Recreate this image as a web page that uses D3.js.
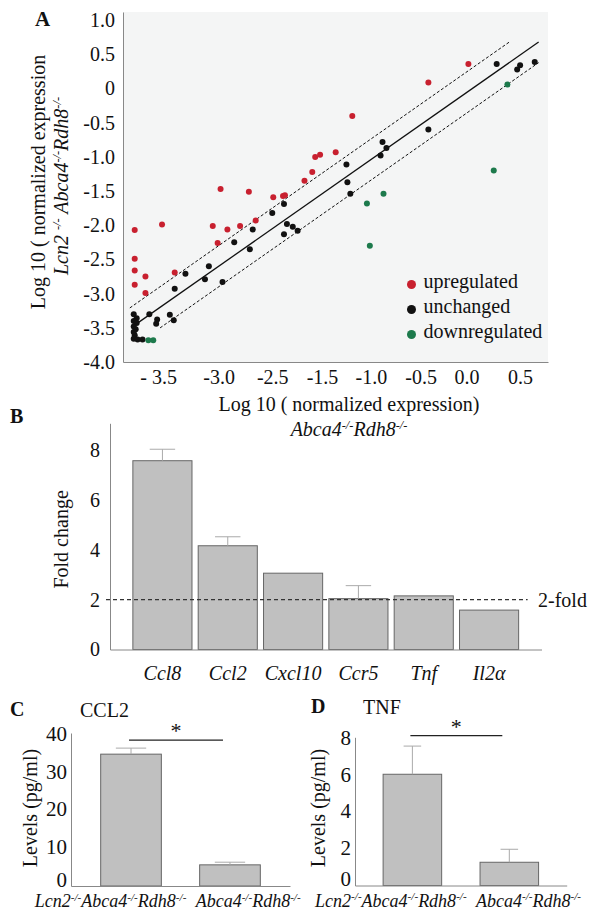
<!DOCTYPE html>
<html>
<head>
<meta charset="utf-8">
<script src="https://cdn.jsdelivr.net/npm/d3@7"></script>
<style>
  body { margin: 0; background: #fff; }
  svg text { font-family: "Liberation Serif", "Times New Roman", serif; fill: #111; }
</style>
</head>
<body>
<div id="fig"></div>
<script>
// ---- A: log10 expression, Lcn2 KO vs control ----
const upregulated = [
  [-3.46,-2.07],[-2.66,-2.01],[-2.51,-2.06],[-2.38,-2.01],[-2.22,-1.93],[-2.61,-2.26],
  [-3.18,-1.99],[-3.46,-2.49],[-3.46,-2.66],[-3.35,-2.75],[-3.46,-2.87],[-3.35,-2.99],
  [-3.05,-2.69],[-2.58,-1.47],[-2.29,-1.51],[-2.04,-1.59],[-1.94,-1.57],[-1.92,-1.56],
  [-1.72,-1.35],[-1.64,-1.22],[-1.61,-1.00],[-1.56,-0.97],[-1.40,-0.93],[-1.23,-0.40],
  [-0.45,0.09],[-0.04,0.36]
];
const unchanged = [
  [-1.93,-1.69],[-2.05,-1.82],[-2.25,-2.06],[-2.44,-2.25],[-2.28,-2.35],[-1.90,-1.98],
  [-1.84,-2.02],[-1.79,-2.08],[-1.93,-2.13],[-2.70,-2.60],[-2.94,-2.71],[-2.74,-2.79],
  [-2.56,-2.83],[-3.05,-2.93],[-3.31,-3.30],[-3.23,-3.38],[-3.24,-3.44],[-3.10,-3.31],
  [-3.06,-3.39],[-3.47,-3.30],[-3.44,-3.36],[-3.47,-3.40],[-3.44,-3.43],[-3.47,-3.48],
  [-3.45,-3.52],[-3.47,-3.56],[-3.46,-3.61],[-3.47,-3.66],[-3.43,-3.67],[-3.38,-3.67],
  [0.25,0.36],[0.49,0.34],[0.46,0.28],[0.64,0.39],[-0.45,-0.60],[-0.92,-0.78],
  [-0.88,-0.87],[-0.94,-0.98],[-1.29,-1.11],[-1.28,-1.37],[-1.25,-1.54]
];
const downregulated = [
  [0.36,0.06],[0.22,-1.20],[-0.91,-1.54],[-1.08,-1.68],[-1.05,-2.30],[-3.32,-3.68],[-3.27,-3.68]
];
const groupNames = ["upregulated", "unchanged", "downregulated"];
const yTicksA = [1.0, 0.5, 0, -0.5, -1.0, -1.5, -2.0, -2.5, -3.0, -3.5, -4.0];
const yTickLabelsA = ["1.0", "0.5", "0", "-0.5", "-1.0", "-1.5", "-2.0", "-2.5", "-3.0", "-3.5", "-4.0"];
// tick labels as printed in the original (they are not evenly spaced there)
const xTicksA = [-3.22, -2.60, -2.05, -1.54, -1.04, -0.53, -0.06, 0.49];
const xTickLabelsA = ["- 3.5", "-3.0", "-2.5", "-1.5", "-1.0", "-0.5", "0.0", "0.5"];
// y = x and the 2-fold band, with the x-range each line covers
const fitLines = [
  { offset: 0, from: -3.49, to: 0.68 },
  { offset: Math.log10(2), from: -3.51, to: 0.38 },
  { offset: -Math.log10(2), from: -3.20, to: 0.68 }
];

// ---- B: fold change ----
const genes = ["Ccl8", "Ccl2", "Cxcl10", "Ccr5", "Tnf", "Il2α"];
const foldChange = [7.57, 4.16, 3.06, 2.04, 2.15, 1.58];
const foldError = [0.46, 0.36, 0, 0.52, 0, 0];
const foldTicks = [0, 2, 4, 6, 8];
const foldThreshold = 2;

// ---- C / D: protein levels ----
const strains = ["Lcn2-/-Abca4-/-Rdh8-/-", "Abca4-/-Rdh8-/-"];
const ccl2Levels = [34.9, 5.6];
const ccl2Error = [1.6, 0.7];
const ccl2Ticks = [0, 10, 20, 30, 40];
const tnfLevels = [6.08, 1.27];
const tnfError = [1.54, 0.71];
const tnfTicks = [0, 2, 4, 6, 8];

const colors = { upregulated: "#c8202f", unchanged: "#111111", downregulated: "#1d7a4c" };

const svg = d3.select("#fig").append("svg")
  .attr("width", 593)
  .attr("height", 914);

// text with "-/-" as superscripts
function richText(text, str, fs) {
  const parts = str.split(/(-\/-)/).filter(p => p !== "");
  let up = false;
  parts.forEach(p => {
    const ts = text.append("tspan").text(p);
    if (p === "-/-") {
      ts.attr("font-size", fs * 0.62);
      if (!up) { ts.attr("dy", -fs * 0.36); up = true; }
    } else if (up) {
      ts.attr("dy", fs * 0.36);
      up = false;
    }
  });
  return text;
}

function styleAxis(g, fs) {
  g.select(".domain").attr("stroke", "#888");
  g.selectAll("text").attr("font-size", fs).attr("fill", "#111")
    .attr("font-family", "Liberation Serif, serif");
}

// ================= A =================
const xA = d3.scaleLinear().domain([-3.58, 0.776]).range([123, 548]);
const yA = d3.scaleLinear().domain([-4, 1.12]).range([362, 12]);

svg.append("rect")
  .attr("x", xA.range()[0]).attr("y", yA.range()[1])
  .attr("width", xA.range()[1] - xA.range()[0])
  .attr("height", yA.range()[0] - yA.range()[1])
  .attr("fill", "#f4f5f5");

svg.append("g")
  .attr("transform", `translate(${xA.range()[0]},0)`)
  .call(d3.axisLeft(yA).tickValues(yTicksA).tickFormat((d, i) => yTickLabelsA[i])
    .tickSize(0).tickSizeOuter(0).tickPadding(8))
  .call(g => styleAxis(g, 20));

svg.append("g")
  .attr("transform", `translate(0,${yA.range()[0]})`)
  .call(d3.axisBottom(xA).tickValues(xTicksA).tickFormat((d, i) => xTickLabelsA[i])
    .tickSize(0).tickSizeOuter(0).tickPadding(8))
  .call(g => styleAxis(g, 20));

const line = d3.line().x(d => xA(d[0])).y(d => yA(d[1]));
svg.append("g").selectAll("path")
  .data(fitLines)
  .join("path")
  .attr("d", d => line([[d.from, d.from + d.offset], [d.to, d.to + d.offset]]))
  .attr("fill", "none")
  .attr("stroke", "#111")
  .attr("stroke-width", d => d.offset === 0 ? 1.3 : 1)
  .attr("stroke-dasharray", d => d.offset === 0 ? null : "3,2");

[upregulated, unchanged, downregulated].forEach((pts, k) => {
  svg.append("g").selectAll("circle")
    .data(pts)
    .join("circle")
    .attr("cx", d => xA(d[0]))
    .attr("cy", d => yA(d[1]))
    .attr("r", 3)
    .attr("fill", colors[groupNames[k]]);
});

const legend = svg.append("g").attr("transform", "translate(411.5,284.5)");
groupNames.forEach((name, i) => {
  legend.append("circle").attr("cx", 0).attr("cy", i * 25).attr("r", 4.5).attr("fill", colors[name]);
  legend.append("text").attr("x", 12).attr("y", i * 25 + 3.5).attr("font-size", 20).text(name);
});

svg.append("text").attr("x", 35).attr("y", 26).attr("font-size", 21).attr("font-weight", "bold").text("A");

svg.append("text")
  .attr("transform", "translate(45,182) rotate(-90)")
  .attr("text-anchor", "middle").attr("font-size", 20)
  .text("Log 10 ( normalized expression");
richText(svg.append("text")
  .attr("transform", "translate(68,186) rotate(-90)")
  .attr("text-anchor", "middle").attr("font-size", 20).attr("font-style", "italic"),
  "Lcn2 -/- Abca4-/-Rdh8-/-", 20);

svg.append("text").attr("x", 349).attr("y", 411).attr("text-anchor", "middle")
  .attr("font-size", 20).text("Log 10 ( normalized expression)");
richText(svg.append("text").attr("x", 349).attr("y", 436).attr("text-anchor", "middle")
  .attr("font-size", 20).attr("font-style", "italic"), "Abca4-/-Rdh8-/-", 20);

// ================= B =================
const xB = d3.scaleBand().domain(genes).range([110, 541.5]).paddingInner(0.095).paddingOuter(0.35);
const yB = d3.scaleLinear().domain([0, 9.07]).range([649.5, 423.3]);

svg.append("g")
  .selectAll("rect")
  .data(genes)
  .join("rect")
  .attr("x", d => xB(d))
  .attr("y", (d, i) => yB(foldChange[i]))
  .attr("width", xB.bandwidth())
  .attr("height", (d, i) => yB(0) - yB(foldChange[i]))
  .attr("fill", "#c0c0c0")
  .attr("stroke", "#666")
  .attr("stroke-width", 1);

function errorBars(g, xs, ys, cats, vals, errs, capFrac) {
  cats.forEach((c, i) => {
    if (!errs[i]) return;
    const cx = xs(c) + xs.bandwidth() / 2;
    const hw = xs.bandwidth() * capFrac / 2;
    g.append("line").attr("x1", cx).attr("x2", cx)
      .attr("y1", ys(vals[i])).attr("y2", ys(vals[i] + errs[i]))
      .attr("stroke", "#aaa");
    g.append("line").attr("x1", cx - hw).attr("x2", cx + hw)
      .attr("y1", ys(vals[i] + errs[i])).attr("y2", ys(vals[i] + errs[i]))
      .attr("stroke", "#aaa");
  });
}
errorBars(svg.append("g"), xB, yB, genes, foldChange, foldError, 0.43);

svg.append("g")
  .attr("transform", `translate(${xB.range()[0]},0)`)
  .call(d3.axisLeft(yB).tickValues(foldTicks).tickSize(0).tickSizeOuter(0).tickPadding(10))
  .call(g => styleAxis(g, 20));

svg.append("g")
  .attr("transform", `translate(0,${yB(0)})`)
  .call(d3.axisBottom(xB).tickSize(0).tickSizeOuter(0).tickPadding(16))
  .call(g => styleAxis(g, 20))
  .call(g => g.selectAll("text").attr("font-style", "italic"));

svg.append("line")
  .attr("x1", xB.range()[0] - 4)
  .attr("x2", xB(genes[genes.length - 1]) + xB.bandwidth() + 9)
  .attr("y1", yB(foldThreshold)).attr("y2", yB(foldThreshold))
  .attr("stroke", "#333").attr("stroke-width", 1.4).attr("stroke-dasharray", "4,3");
svg.append("text").attr("x", 538).attr("y", yB(foldThreshold) + 7)
  .attr("font-size", 20).text("2-fold");

svg.append("text").attr("x", 10).attr("y", 423).attr("font-size", 20).attr("font-weight", "bold").text("B");
svg.append("text")
  .attr("transform", `translate(68,${(yB.range()[0] + yB.range()[1]) / 2 + 3}) rotate(-90)`)
  .attr("text-anchor", "middle").attr("font-size", 20).text("Fold change");

// ================= C & D =================
function levelPanel(opts) {
  const g = svg.append("g");
  const x = d3.scaleBand().domain(d3.range(strains.length)).range(opts.xRange)
    .paddingInner(opts.padIn).paddingOuter(opts.padOut);
  const y = d3.scaleLinear().domain(opts.yDomain).range(opts.yRange);

  g.selectAll("rect")
    .data(opts.values)
    .join("rect")
    .attr("x", (d, i) => x(i))
    .attr("y", d => y(d))
    .attr("width", x.bandwidth())
    .attr("height", d => y(0) - y(d))
    .attr("fill", "#c0c0c0")
    .attr("stroke", "#666");

  errorBars(g, x, y, d3.range(strains.length), opts.values, opts.errors, opts.cap);

  g.append("g")
    .attr("transform", `translate(${opts.xRange[0]},0)`)
    .call(d3.axisLeft(y).tickValues(opts.ticks).tickSize(0).tickSizeOuter(0).tickPadding(opts.tickPad))
    .call(a => styleAxis(a, 21))
    .call(a => a.selectAll("text").attr("dy", d => d === 0 ? "0.02em" : "0.26em"));
  g.append("g")
    .attr("transform", `translate(0,${y(0)})`)
    .call(d3.axisBottom(x).tickValues([]).tickSizeOuter(0))
    .call(a => styleAxis(a, 18));

  // strain labels: first ends past its bar, second starts at its bar
  richText(g.append("text").attr("x", x(0) + x.bandwidth() + 25).attr("y", y(0) + 21)
    .attr("text-anchor", "end").attr("font-size", 18).attr("font-style", "italic"), strains[0], 18);
  richText(g.append("text").attr("x", x(1) - 4).attr("y", y(0) + 21)
    .attr("text-anchor", "start").attr("font-size", 18).attr("font-style", "italic"), strains[1], 18);

  // significance bracket
  const sy = y(opts.sigLevel);
  const sx0 = x(0) + x.bandwidth() / 2 - 2;
  const sx1 = x(1) + x.bandwidth() / 2 - 7;
  g.append("line").attr("x1", sx0).attr("x2", sx1).attr("y1", sy).attr("y2", sy)
    .attr("stroke", "#222").attr("stroke-width", 1.3);
  g.append("text").attr("x", (sx0 + sx1) / 2).attr("y", sy - 2).attr("text-anchor", "middle")
    .attr("font-size", 22).text("*");

  g.append("text").attr("x", opts.letterX).attr("y", opts.titleY)
    .attr("font-size", 20).attr("font-weight", "bold").text(opts.letter);
  g.append("text").attr("x", opts.titleX).attr("y", opts.titleY + 1)
    .attr("font-size", 20).text(opts.title);
  g.append("text")
    .attr("transform", `translate(${opts.yTitleX},808) rotate(-90)`)
    .attr("text-anchor", "middle").attr("font-size", 20).text("Levels (pg/ml)");
}

levelPanel({
  values: ccl2Levels, errors: ccl2Error, ticks: ccl2Ticks,
  xRange: [71, 290], padIn: 0.387, padOut: 0.3,
  yDomain: [0, 40.5], yRange: [886, 733], tickPad: 4, cap: 0.5,
  sigLevel: 38.6, letter: "C", letterX: 10, title: "CCL2", titleX: 80, titleY: 716, yTitleX: 37
});
levelPanel({
  values: tnfLevels, errors: tnfError, ticks: tnfTicks,
  xRange: [355, 566.7], padIn: 0.396, padOut: 0.29,
  yDomain: [0, 8.1], yRange: [885.5, 737.3], tickPad: 4, cap: 0.3,
  sigLevel: 8.19, letter: "D", letterX: 311, title: "TNF", titleX: 363, titleY: 713, yTitleX: 325
});
</script>
</body>
</html>
